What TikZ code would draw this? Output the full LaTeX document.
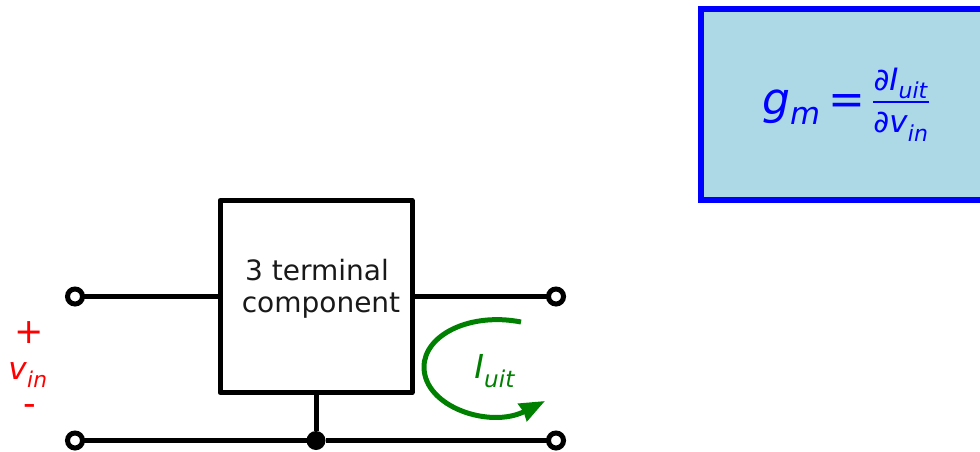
\documentclass[tikz,border=0pt]{standalone}
\usepackage{amsmath}
\usepackage{fontspec}
\setmainfont{DejaVu Sans}
\usepackage[dvipsnames]{xcolor}
\definecolor{boxblue}{RGB}{173,216,230}
\definecolor{loopgreen}{RGB}{0,128,0}
\usetikzlibrary{arrows.meta}
\newcommand{\obl}[1]{\text{\textit{#1}}}

\begin{document}
\begin{tikzpicture}[x=1pt,y=-1pt,line width=5pt,outer sep=0pt,
    terminal node/.style={circle,draw,fill=white,inner sep=0pt,minimum size=15pt,line width=5pt},
    block node/.style={draw,minimum size=192pt,inner sep=0pt,line join=round},
    dot node/.style={circle,fill=black,inner sep=0pt,minimum size=19pt}]
                \useasboundingbox (0,0) rectangle (980,452);

                \node[block node] (block) at (316,296.5) {};
                \node[align=center,text=black!90,font=\fontsize{28}{32}\selectfont] (blocktext) at (317,288.5) {3 terminal\\\hspace*{8pt}component};
                \node[terminal node] (tl) at (75,296.5) {};
                \node[terminal node] (tr) at (556,296.5) {};
                \node[terminal node] (bl) at (75,440.5) {};
                \node[terminal node] (br) at (556,440.5) {};
                \node[dot node] (joint) at (316,440.5) {};

                \node[draw=blue,fill=boxblue,line width=5.5pt,minimum width=290pt,minimum height=191pt,inner sep=0pt,text=blue,font=\fontsize{44}{50}\selectfont] (gmbox) at (846,104.5) {\raisebox{-6pt}{$\obl{g}_{\obl{m}}\text{\,=\,}$}$\genfrac{}{}{2pt}{}{\obl{∂I}_{\obl{uit}}\rule[-2pt]{0pt}{2pt}}{\rule{0pt}{28pt}\obl{∂v}_{\obl{in}}}$};

                \node[text=red,align=center,font=\fontsize{31}{36}\selectfont] (vin) at (28,369) {\hspace*{3pt}{\fontsize{35}{36}\selectfont +}\\$\obl{v}_{\obl{in}}$\\\hspace*{3pt}{\fontsize{35}{36}\selectfont -}};
                \node[text=loopgreen,font=\fontsize{33}{36}\selectfont] (iuit) at (495,371) {$\obl{I}_{\obl{uit}}$};

                \coordinate (loopstart) at (521,322);
                \coordinate (loopend) at (545,401);

                \path
                    (tl) edge (block)
                    (block) edge (tr)
                    (bl) edge (joint)
                    (joint) edge (br)
                    (block) edge (joint)
                    ;
                \draw[loopgreen,-{Stealth[length=25pt,width=19pt,inset=1pt]}] (loopstart) .. controls (470,312) and (424,335) .. (424,367) .. controls (424,407) and (490,429) .. (loopend);
            \end{tikzpicture}
\end{document}
